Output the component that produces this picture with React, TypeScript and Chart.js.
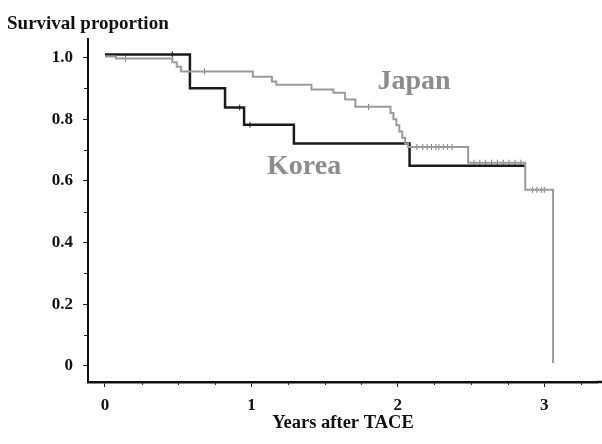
import React, { useEffect, useRef } from "react";
import { Chart, registerables } from "chart.js";

Chart.register(...registerables);

const koreaX = [0, 0.58, 0.82, 0.95, 1.29, 2.08, 2.87];
const koreaY = [1.01, 0.9, 0.838, 0.782, 0.721, 0.649, 0.649];

const japanX = [0, 0.075, 0.46, 0.49, 0.52, 1.01, 1.14, 1.17, 1.41, 1.56, 1.64, 1.71, 1.95, 1.97, 1.99, 2.01, 2.03, 2.05, 2.07, 2.48, 2.87, 3.06];
const japanY = [1.003, 0.997, 0.985, 0.97, 0.955, 0.938, 0.922, 0.912, 0.896, 0.886, 0.864, 0.84, 0.82, 0.8, 0.78, 0.76, 0.74, 0.72, 0.71, 0.659, 0.571, 0.01];

const japanCensorX = [0.14, 0.68, 1.8, 2.13, 2.17, 2.2, 2.23, 2.26, 2.28, 2.31, 2.34, 2.37, 2.52, 2.56, 2.6, 2.64, 2.68, 2.72, 2.76, 2.8, 2.84, 2.92, 2.95, 2.98, 3.0];
const japanCensorY = [0.997, 0.955, 0.84, 0.71, 0.71, 0.71, 0.71, 0.71, 0.71, 0.71, 0.71, 0.71, 0.659, 0.659, 0.659, 0.659, 0.659, 0.659, 0.659, 0.659, 0.659, 0.571, 0.571, 0.571, 0.571];
const koreaCensorX = [0.46, 0.92, 0.99];
const koreaCensorY = [1.01, 0.838, 0.782];

const xTicks = [0, 1, 2, 3];
const yTicks = [0, 0.2, 0.4, 0.6, 0.8, 1.0];
const xMinorTicks = [0.25, 0.5, 0.75, 1.25, 1.5, 1.75, 2.25, 2.5, 2.75, 3.25];
const yMinorTicks = [0.1, 0.3, 0.5, 0.7, 0.9];

const seriesLabels = [
  { text: "Japan", x: 2.11, y: 0.92 },
  { text: "Korea", x: 1.36, y: 0.645 },
];

const SERIF = "'Liberation Serif', 'Times New Roman', serif";

export default function App() {
  const ref = useRef<HTMLCanvasElement | null>(null);

  useEffect(() => {
    document.body.style.margin = "0";
    const canvas = ref.current;
    if (!canvas) return;

    const overlay = {
      id: "overlay",
      afterDraw(chart: any) {
        const ctx = chart.ctx;
        const xs = chart.scales.x;
        const ys = chart.scales.y;
        const area = chart.chartArea;
        ctx.save();
        ctx.strokeStyle = "#222";
        ctx.lineWidth = 1;
        xMinorTicks.forEach((v) => {
          const px = Math.round(xs.getPixelForValue(v)) + 0.5;
          ctx.beginPath();
          ctx.moveTo(px, area.bottom);
          ctx.lineTo(px, area.bottom + 3);
          ctx.stroke();
        });
        yMinorTicks.forEach((v) => {
          const py = Math.round(ys.getPixelForValue(v)) + 0.5;
          ctx.beginPath();
          ctx.moveTo(area.left, py);
          ctx.lineTo(area.left - 4, py);
          ctx.stroke();
        });
        // extend x axis line to the right edge
        ctx.strokeStyle = "#111";
        ctx.lineWidth = 2.5;
        ctx.beginPath();
        ctx.moveTo(area.right, area.bottom);
        ctx.lineTo(chart.width, area.bottom);
        ctx.stroke();
        ctx.font = `bold 28px ${SERIF}`;
        ctx.fillStyle = "#8c8c8c";
        ctx.textAlign = "center";
        ctx.textBaseline = "middle";
        seriesLabels.forEach((l) => {
          ctx.fillText(l.text, xs.getPixelForValue(l.x), ys.getPixelForValue(l.y));
        });
        ctx.fillStyle = "#111";
        ctx.font = `bold 19px ${SERIF}`;
        ctx.textAlign = "left";
        ctx.textBaseline = "alphabetic";
        ctx.fillText("Survival proportion", 7, 29);
        ctx.font = `bold 18.5px ${SERIF}`;
        ctx.textAlign = "center";
        ctx.fillText("Years after TACE", 343, 428);
        ctx.restore();
      },
    };

    const chart = new Chart(canvas, {
      type: "line",
      data: {
        datasets: [
          {
            label: "Japan",
            data: japanX.map((x, i) => ({ x, y: japanY[i] })),
            borderColor: "#9a9a9a",
            borderWidth: 2,
            stepped: true,
            pointRadius: 0,
            fill: false,
          },
          {
            label: "Korea",
            data: koreaX.map((x, i) => ({ x, y: koreaY[i] })),
            borderColor: "#1a1a1a",
            borderWidth: 2.5,
            stepped: true,
            pointRadius: 0,
            fill: false,
          },
          {
            label: "Japan censored",
            data: japanCensorX.map((x, i) => ({ x, y: japanCensorY[i] })),
            showLine: false,
            pointStyle: "line",
            rotation: 90,
            pointRadius: 3,
            borderColor: "#777",
            pointBorderWidth: 1,
          },
          {
            label: "Korea censored",
            data: koreaCensorX.map((x, i) => ({ x, y: koreaCensorY[i] })),
            showLine: false,
            pointStyle: "line",
            rotation: 90,
            pointRadius: 3,
            borderColor: "#222",
            pointBorderWidth: 1,
          },
        ],
      },
      options: {
        animation: false,
        responsive: false,
        maintainAspectRatio: false,
        layout: { padding: { top: 39, right: 0, left: 0, bottom: 0 } },
        plugins: { legend: { display: false }, tooltip: { enabled: false } },
        scales: {
          x: {
            type: "linear",
            min: -0.116,
            max: 3.36,
            afterBuildTicks: (s: any) => {
              s.ticks = xTicks.map((v) => ({ value: v }));
            },
            afterFit: (s: any) => {
              s.height = 62;
            },
            grid: { drawOnChartArea: false, drawTicks: true, tickLength: 5, color: "#222", lineWidth: 1 },
            border: { display: true, color: "#111", width: 2.5 },
            ticks: {
              color: "#111",
              font: { family: SERIF, size: 17, weight: "bold" },
              padding: 8,
              maxRotation: 0,
              callback: (v: any) => String(v),
            },
          },
          y: {
            type: "linear",
            min: -0.052,
            max: 1.06,
            afterBuildTicks: (s: any) => {
              s.ticks = yTicks.map((v) => ({ value: v }));
            },
            afterFit: (s: any) => {
              s.width = 88;
            },
            grid: { drawOnChartArea: false, drawTicks: true, tickLength: 5, color: "#222", lineWidth: 1 },
            border: { display: true, color: "#111", width: 2 },
            ticks: {
              color: "#111",
              font: { family: SERIF, size: 17, weight: "bold" },
              padding: 10,
              callback: (v: any) => (v === 0 ? "0" : Number(v).toFixed(1)),
            },
          },
        },
      },
      plugins: [overlay],
    });

    return () => chart.destroy();
  }, []);

  return (
    <div style={{ width: 602, height: 444, background: "#fff" }}>
      <canvas ref={ref} width={602} height={444} style={{ display: "block", width: 602, height: 444 }} />
    </div>
  );
}
